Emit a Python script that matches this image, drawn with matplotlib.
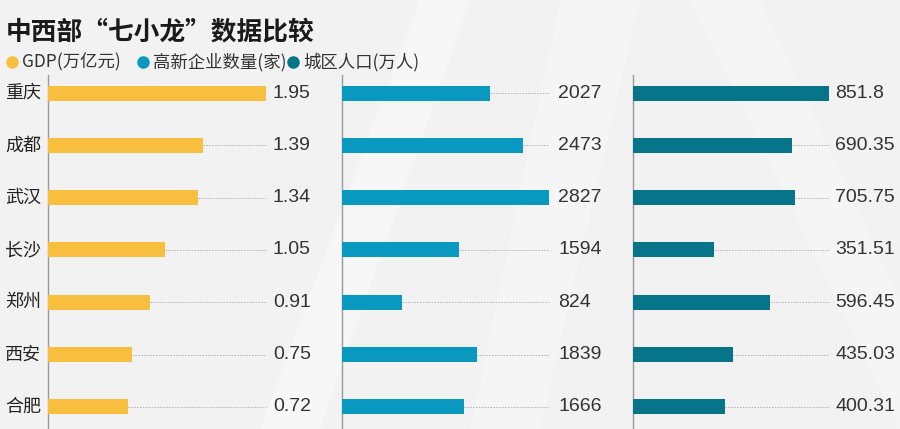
import numpy as np
import matplotlib.pyplot as plt
from matplotlib.lines import Line2D

plt.rcParams['font.family'] = ['Noto Sans CJK SC', 'DejaVu Sans']

# data
cities = ['重庆', '成都', '武汉', '长沙', '郑州', '西安', '合肥']
gdp = [1.95, 1.39, 1.34, 1.05, 0.91, 0.75, 0.72]
hitech = [2027, 2473, 2827, 1594, 824, 1839, 1666]
population = [851.8, 690.35, 705.75, 351.51, 596.45, 435.03, 400.31]
gdp_labels = ['1.95', '1.39', '1.34', '1.05', '0.91', '0.75', '0.72']
hitech_labels = ['2027', '2473', '2827', '1594', '824', '1839', '1666']
pop_labels = ['851.8', '690.35', '705.75', '351.51', '596.45', '435.03', '400.31']
legend_names = ['GDP(万亿元)', '高新企业数量(家)', '城区人口(万人)']

colors = ['#f8bf3e', '#0898c0', '#06758a']
bg = '#f3f2f3'

W, H = 900, 429
fig = plt.figure(figsize=(W / 100, H / 100), dpi=100)
fig.patch.set_facecolor(bg)

# faint watermark shapes
wm = fig.add_axes([0, 0, 1, 1], zorder=-5)
wm.set_xlim(0, W)
wm.set_ylim(H, 0)
wm.axis('off')
wm.fill([260, 320, 470, 420], [429, 429, 0, 0], color='white', alpha=0.45, lw=0)
wm.fill([690, 760, 900, 900], [0, 0, 300, 429], color='white', alpha=0.3, lw=0)
wm.fill([560, 640, 540, 470], [0, 0, 429, 429], color='white', alpha=0.25, lw=0)

# title and legend
fig.text(6 / W, 1 - 33 / H, '中西部“七小龙”数据比较', fontsize=18.5, fontweight='bold',
         color='#1a1a1a', va='center', ha='left')
leg_x = [12, 143, 293]
for x, name, c in zip(leg_x, legend_names, colors):
    fig.add_artist(Line2D([x / W], [1 - 62 / H], marker='o', markersize=8, color=c,
                          transform=fig.transFigure))
    fig.text((x + 10) / W, 1 - 62 / H, name, fontsize=12.5, color='#333333',
             va='center', ha='left')

# panels: axis line x, pixel length of the largest bar, label x
panels = [
    (48, 218, 273, gdp, gdp_labels),
    (342, 207, 558, hitech, hitech_labels),
    (633, 196, 835, population, pop_labels),
]
top_px, row0, row_gap, bar_px = 75, 93, 52.3, 15
n = len(cities)
y = np.arange(n)

for i, (x0, maxpx, lx, vals, labs) in enumerate(panels):
    right = 898 if i == 2 else (panels[i + 1][0] - 6)
    ax = fig.add_axes([x0 / W, 0, (right - x0) / W, (H - top_px) / H])
    ax.set_facecolor('none')
    vmax = max(vals)
    scale = vmax / maxpx  # data units per pixel
    ax.set_xlim(0, (right - x0) * scale)
    ax.set_ylim((H - row0) / row_gap, -(row0 - top_px) / row_gap)
    ax.barh(y, vals, height=bar_px / row_gap, color=colors[i], zorder=3)
    for yi, v, lab in zip(y, vals, labs):
        if v < vmax:
            ax.plot([v, vmax], [yi, yi], ls=(0, (1.5, 1.5)), lw=0.7, color='#b0b0b0', zorder=2)
        ax.text((lx - x0) * scale, yi, lab, fontsize=14, color='#333333',
                family=['Liberation Sans', 'DejaVu Sans'],
                va='center', ha='left')
    for s in ['top', 'right', 'bottom']:
        ax.spines[s].set_visible(False)
    ax.spines['left'].set_color('#9a9a9a')
    ax.spines['left'].set_linewidth(1.0)
    ax.set_xticks([])
    ax.set_yticks([])

# city names
for yi, city in enumerate(cities):
    fig.text(5 / W, 1 - (row0 + row_gap * yi) / H, city, fontsize=13, color='#222222',
             va='center', ha='left')

plt.savefig('out.png', dpi=100, facecolor=bg)
